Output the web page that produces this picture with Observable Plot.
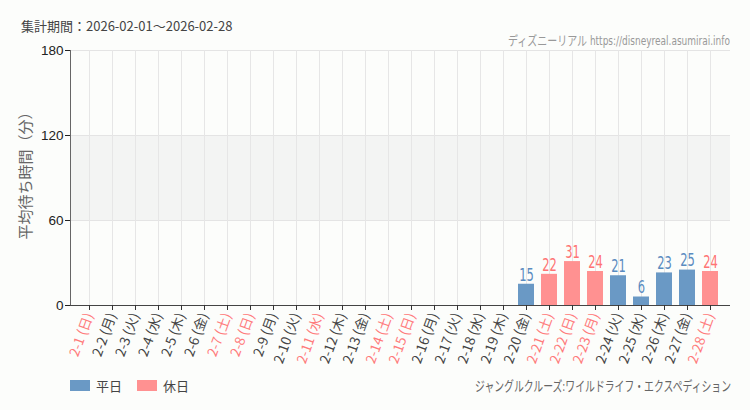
<!DOCTYPE html>
<html>
<head>
<meta charset="utf-8">
<script src="https://cdn.jsdelivr.net/npm/d3@7"></script>
<script src="https://cdn.jsdelivr.net/npm/@observablehq/plot@0.6"></script>
<style>
  html, body { margin: 0; padding: 0; background: #fcfdfb; }
  #wrap { position: relative; width: 750px; height: 410px; overflow: hidden; font-family: "Noto Sans CJK JP", "Noto Sans", sans-serif; }
  #wrap svg { position: absolute; left: 0; top: 0; background: transparent; }
  .ov { position: absolute; white-space: nowrap; }
  #title { left: 21px; top: 16px; font-size: 13px; color: #444; }
  #credit { right: 20px; top: 30px; font-size: 13px; color: #999; font-family: "DejaVu Sans Condensed", "Noto Sans CJK JP", sans-serif; transform-origin: right center; }
  #caption { right: 19px; top: 375px; font-size: 14px; color: #666; font-family: "DejaVu Sans Condensed", "Noto Sans CJK JP", sans-serif; transform-origin: right center; }
  #legend { left: 70px; top: 376px; font-size: 13px; color: #444; display: flex; align-items: center; }
  .sw { display: inline-block; width: 20px; height: 11px; margin-right: 6px; }
  .lg { margin-right: 15px; }
</style>
</head>
<body>
<div id="wrap">
  <div id="chart"></div>
  <div class="ov" id="title">集計期間：2026-02-01～2026-02-28</div>
  <div class="ov" id="credit">ディズニーリアル https://disneyreal.asumirai.info</div>
  <div class="ov" id="legend"></div>
  <div class="ov" id="caption">ジャングルクルーズ:ワイルドライフ・エクスペディション</div>
</div>
<script>
const dates = ["2-1","2-2","2-3","2-4","2-5","2-6","2-7","2-8","2-9","2-10","2-11","2-12","2-13","2-14","2-15","2-16","2-17","2-18","2-19","2-20","2-21","2-22","2-23","2-24","2-25","2-26","2-27","2-28"];
const dows = ["日","月","火","水","木","金","土","日","月","火","水","木","金","土","日","月","火","水","木","金","土","日","月","火","水","木","金","土"];
const holidays = ["2-1","2-7","2-8","2-11","2-14","2-15","2-21","2-22","2-23","2-28"];
const waits = [null,null,null,null,null,null,null,null,null,null,null,null,null,null,null,null,null,null,null,15,22,31,24,21,6,23,25,24];
const yTicks = [0, 60, 120, 180];
const seriesNames = ["平日", "休日"];
const seriesColors = ["#6a99c5", "#ff9191"];
const labelColors = ["#5a8bc0", "#ff7474"];
const tickColors = ["#444444", "#ff7b7b"];

const labels = dates.map((d, i) => `${d} (${dows[i]})`);
const rows = dates.map((d, i) => ({
  label: labels[i],
  value: waits[i],
  kind: holidays.includes(d) ? 1 : 0
}));
const bars = rows.filter(r => r.value != null);
const kindOf = new Map(rows.map(r => [r.label, r.kind]));

const chart = Plot.plot({
  width: 750,
  height: 410,
  marginTop: 50,
  marginBottom: 105,
  marginLeft: 70,
  marginRight: 20,
  style: { background: "transparent", fontFamily: "'Noto Sans CJK JP', 'Noto Sans', sans-serif" },
  x: { type: "band", domain: labels, paddingInner: 0.29, paddingOuter: 0.145, axis: null },
  y: { domain: [0, 180], axis: null },
  marks: [
    Plot.rect([{ a: 60, b: 120 }], { y1: "a", y2: "b", fill: "#f3f4f3" }),
    Plot.ruleY([60, 120, 180], { stroke: "#e4e4e4" }),
    Plot.ruleX(labels, { x: d => d, stroke: "#e6e6e6" }),
    Plot.barY(bars, { x: "label", y: "value", fill: d => seriesColors[d.kind] }),
    Plot.text(bars, {
      x: "label", y: "value", text: d => String(d.value), dy: -9, rotate: 0,
      fill: d => labelColors[d.kind], fontSize: 16, className: "vlab",
      fontFamily: "'DejaVu Sans Condensed', sans-serif"
    }),
    Plot.axisY({ ticks: yTicks, tickSize: 5, tickPadding: 2, fontSize: 13.5, color: "#222", label: null,
      fontFamily: "'Liberation Sans', Arial, sans-serif" }),
    Plot.frame({ anchor: "left", stroke: "#666" }),
    Plot.ruleY([0], { stroke: "#444" }),
    Plot.axisX({ tickSize: 5, tickRotate: -70, fontSize: 13.5, tickPadding: 3, label: null,
      stroke: "#333", fill: d => tickColors[kindOf.get(d)] }),
    Plot.text(["平均待ち時間（分）"], {
      text: d => d, frameAnchor: "left", textAnchor: "middle", rotate: -90, dx: -44, dy: -6,
      fontSize: 15, fill: "#666"
    })
  ]
});
document.getElementById("chart").appendChild(chart);

// narrow the value labels like the reference's condensed face
d3.select(chart).selectAll(".vlab text").each(function () {
  const t = this.getAttribute("transform") || "";
  this.setAttribute("transform", t + " scale(0.8,1.05)");
});

const legend = document.getElementById("legend");
seriesNames.forEach((n, i) => {
  const s = document.createElement("span"); s.className = "sw"; s.style.background = seriesColors[i];
  const t = document.createElement("span"); t.className = "lg"; t.textContent = n;
  legend.appendChild(s); legend.appendChild(t);
});

function fit(id, target) {
  const el = document.getElementById(id);
  const w = el.getBoundingClientRect().width;
  el.style.transform = `scaleX(${target / w})`;
}
fit("credit", 222);
fit("caption", 256);
</script>
</body>
</html>
